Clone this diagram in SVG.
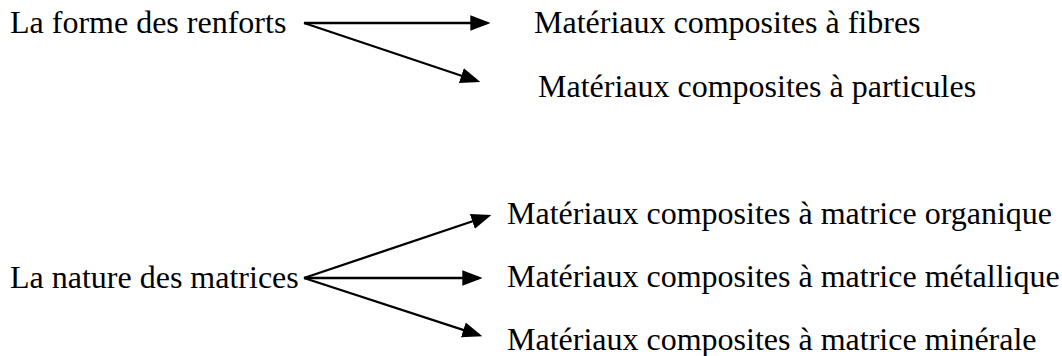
<svg xmlns="http://www.w3.org/2000/svg" width="1062" height="356" viewBox="0 0 1062 356">
<style>
text { font-family: "Liberation Serif", "Times New Roman", serif; font-size: 32px; fill: #000; }
.conn { stroke: #000; stroke-width: 2.3; fill: none; marker-end: url(#arrow); }
</style>
<defs>
<marker id="arrow" markerUnits="userSpaceOnUse" markerWidth="20" markerHeight="16" refX="15" refY="7" orient="auto" viewBox="0 0 18 14">
<path d="M0,0 L18,7 L0,14 z" fill="#000"/>
</marker>
</defs>
<rect width="1062" height="356" fill="#fff"/>
<g id="n-forme"><text x="10" y="33">La forme des renforts</text></g>
<g id="n-fibres"><text x="534" y="33">Matériaux composites à fibres</text></g>
<g id="n-particules"><text x="538" y="97">Matériaux composites à particules</text></g>
<g id="n-nature"><text x="10" y="288">La nature des matrices</text></g>
<g id="n-organique"><text x="507" y="224">Matériaux composites à matrice organique</text></g>
<g id="n-metallique"><text x="507" y="287">Matériaux composites à matrice métallique</text></g>
<g id="n-minerale"><text x="507" y="350">Matériaux composites à matrice minérale</text></g>
<g id="connectors">
<line class="conn" x1="304" y1="23" x2="487" y2="23"/>
<line class="conn" x1="304" y1="23" x2="477.2" y2="81"/>
<line class="conn" x1="304" y1="278" x2="488.2" y2="216"/>
<line class="conn" x1="304" y1="278" x2="479" y2="278"/>
<line class="conn" x1="304" y1="278" x2="479.2" y2="335.1"/>
</g>
</svg>
